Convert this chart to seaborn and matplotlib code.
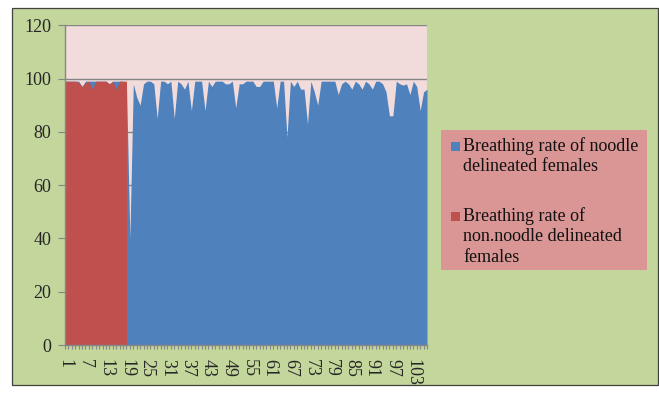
import numpy as np
import pandas as pd
import matplotlib
matplotlib.use("Agg")
import matplotlib.pyplot as plt
import matplotlib.patches as mpatches
import seaborn as sns

# ---- data ----
noodle = [99, 99, 99, 99, 99, 97, 99, 99, 99, 99, 99, 99, 99, 98, 99, 99, 99, 99, 98,
          40, 98, 93, 90, 98, 99, 99, 98, 85, 99, 99, 98, 99, 85, 99, 98, 96, 99, 88,
          99, 99, 99, 88, 99, 97, 99, 99, 99, 98, 98, 99, 89, 98, 98, 99, 99, 99, 97,
          97, 99, 99, 99, 99, 89, 99, 99, 78, 99, 97, 99, 96, 96, 83, 99, 95, 90, 99,
          99, 99, 99, 99, 94, 98, 99, 98, 96, 99, 98, 96, 99, 98, 96, 99, 99, 98, 95,
          86, 86, 99, 98, 97.5, 98, 94, 99, 97, 88, 95, 96]
non_noodle = [99, 99, 99, 99, 98.5, 97, 98.5, 99, 96, 99, 99, 99, 99, 98, 99, 96, 99, 99, 99]
y_ticks = [0, 20, 40, 60, 80, 100, 120]
legend_labels = ["Breathing rate of noodle\ndelineated females",
                 "Breathing rate of\nnon.noodle delineated\nfemales"]

BLUE = "#4f81bd"
RED = "#c0504d"

df_b = pd.DataFrame({"x": np.arange(1, len(noodle) + 1), "y": noodle})
df_r = pd.DataFrame({"x": np.arange(1, len(non_noodle) + 1), "y": non_noodle})

sns.set_style("white")
plt.rcParams["font.family"] = ["Liberation Serif", "DejaVu Serif"]
FS = 13

W, H = 659, 395
fig = plt.figure(figsize=(W / 100, H / 100), dpi=100, facecolor="white")

# outer green chart area
fig.patches.append(mpatches.Rectangle((11.5 / W, 1 - 385 / H), (657.5 - 11.5) / W, (385 - 7.5) / H,
                                      transform=fig.transFigure, facecolor="#c3d69b",
                                      edgecolor="#404040", linewidth=0.9, zorder=-5))

ax = fig.add_axes([65 / W, 1 - 345 / H, (427 - 65) / W, (345 - 25.2) / H])
ax.set_zorder(1)
ax.set_facecolor("#f2dcdb")

for v in y_ticks:
    ax.axhline(v, color="#868686", linewidth=1.0, zorder=1)

sns.lineplot(data=df_b, x="x", y="y", ax=ax, color=BLUE, linewidth=0, zorder=2)
ax.fill_between(df_b["x"], 0, df_b["y"], color=BLUE, linewidth=0, zorder=2)
sns.lineplot(data=df_r, x="x", y="y", ax=ax, color=RED, linewidth=0, zorder=3)
ax.fill_between(df_r["x"], 0, df_r["y"], color=RED, linewidth=0, zorder=3)

ax.set_xlim(1, len(noodle))
ax.set_ylim(0, 120)
ax.set_yticks(y_ticks)
ax.set_yticklabels([str(v) for v in y_ticks], fontsize=FS)
xt = np.arange(1, len(noodle) + 1)
ax.set_xticks(xt)
ax.set_xticklabels([str(i) if (i - 1) % 6 == 0 else "" for i in xt], rotation=-90, fontsize=FS)
ax.tick_params(axis="x", length=3, width=0.8, color="#868686", pad=7, bottom=True)
ax.tick_params(axis="y", length=5, width=0.8, color="#868686", pad=5, left=True)
ax.set_xlabel("")
ax.set_ylabel("")
for s in ["top", "right"]:
    ax.spines[s].set_visible(False)
for s in ["left", "bottom"]:
    ax.spines[s].set_color("#868686")
    ax.spines[s].set_linewidth(1.0)
    ax.spines[s].set_zorder(4)

# legend
fig.patches.append(mpatches.Rectangle((441 / W, 1 - 270 / H), (647 - 441) / W, (270 - 130) / H,
                                      transform=fig.transFigure, facecolor="#d99694",
                                      edgecolor="none", zorder=-4))
entries = [(BLUE, legend_labels[0], 137.5), (RED, legend_labels[1], 207.5)]
for col, lab, ytop in entries:
    fig.patches.append(mpatches.Rectangle((451 / W, 1 - 150.5 / H - (ytop - 137.5) / H), 9 / W, 9 / H,
                                          transform=fig.transFigure, facecolor=col,
                                          edgecolor="none", zorder=2))
    fig.text(463 / W, 1 - ytop / H, lab, fontsize=FS, va="top", ha="left",
             linespacing=1.24, color="#111111")

fig.savefig("out.png", dpi=100, facecolor="white")
